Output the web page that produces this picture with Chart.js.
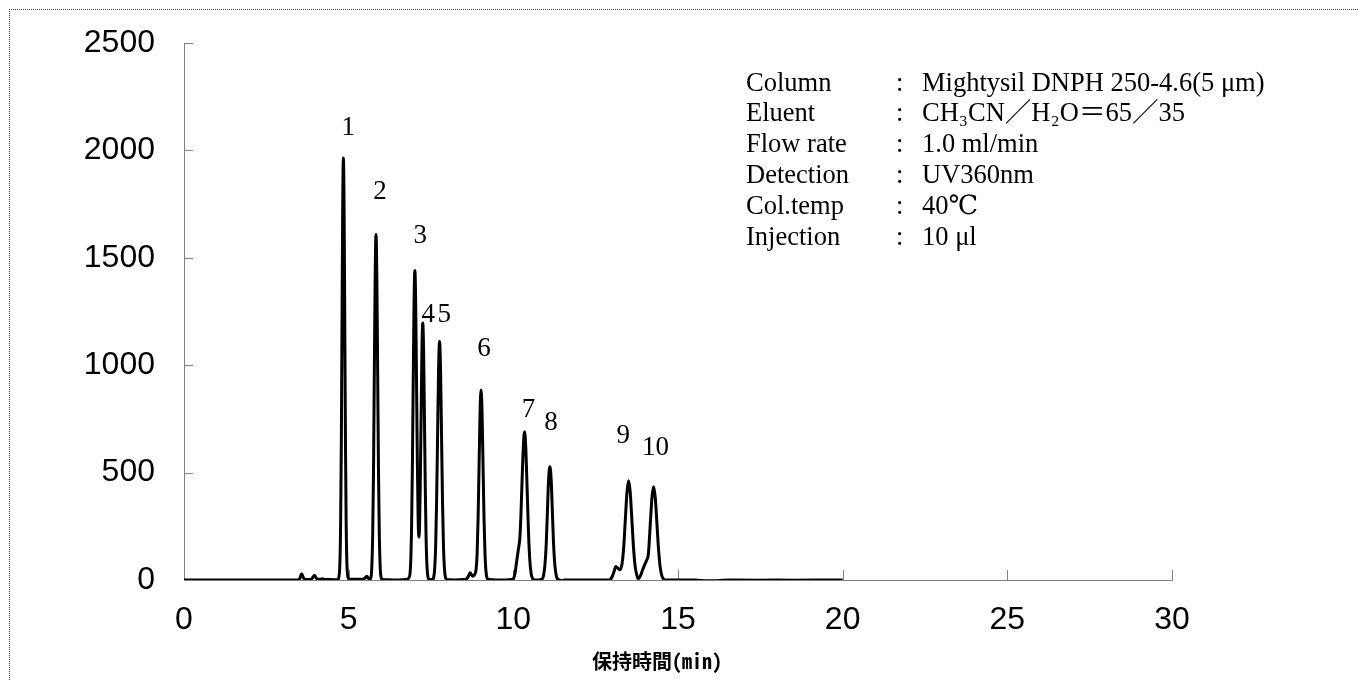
<!DOCTYPE html>
<html>
<head>
<meta charset="utf-8">
<title>DNPH chromatogram</title>
<script src="https://cdn.jsdelivr.net/npm/chart.js@4/dist/chart.umd.min.js"></script>
<style>
  html, body { margin: 0; padding: 0; background: #fff; }
  #wrap { position: relative; width: 1359px; height: 681px; overflow: hidden; }
  #frame { position: absolute; left: 9px; top: 9px; width: 1400px; height: 700px;
           border-left: 1px dotted #444; border-top: 1px dotted #444; pointer-events: none; }
</style>
</head>
<body>
<div id="wrap">
  <canvas id="chrom"></canvas>
  <div id="frame"></div>
</div>
<script>
// trace: retention time (min) and detector response
const retentionTime = [
  0, 1, 2, 3, 3.45,
  3.5, 3.53, 3.56, 3.58, 3.61, 3.65, 3.7,
  3.8, 3.87, 3.92, 3.96, 4.0, 4.05,
  4.12, 4.2, 4.28, 4.45, 4.6, 4.68,
  4.71, 4.735, 4.756, 4.777, 4.798, 4.819, 4.84, 4.861, 4.882, 4.903, 4.924, 4.945, 4.97, 5.0,
  5.1, 5.3, 5.45, 5.5, 5.55, 5.59, 5.63,
  5.68, 5.705, 5.73, 5.755, 5.78, 5.805, 5.83, 5.855, 5.88, 5.905, 5.93, 5.955, 5.98, 6.02,
  6.2, 6.5, 6.75,
  6.82, 6.86, 6.885, 6.91, 6.935, 6.96, 6.985, 7.01, 7.035, 7.06, 7.085, 7.11, 7.135,
  7.155, 7.175, 7.2, 7.225, 7.25, 7.275, 7.3, 7.325, 7.35, 7.375, 7.4, 7.43,
  7.5, 7.56,
  7.58, 7.61, 7.64, 7.67, 7.7, 7.73, 7.76, 7.79, 7.82, 7.85, 7.88, 7.91, 7.94, 7.98,
  8.2, 8.5,
  8.6, 8.65, 8.69, 8.73, 8.77,
  8.81, 8.84, 8.87, 8.9, 8.93, 8.96, 8.99, 9.02, 9.05, 9.08, 9.11, 9.14, 9.17, 9.2, 9.25,
  9.5, 9.8, 9.95,
  10.0, 10.05, 10.1, 10.15, 10.2, 10.23, 10.26, 10.3, 10.34, 10.38, 10.42, 10.46, 10.5, 10.54, 10.58, 10.62,
  10.75,
  10.885, 10.92, 10.96, 11.0, 11.035, 11.07, 11.11, 11.15, 11.185, 11.22, 11.26, 11.3, 11.335, 11.4, 11.47, 11.55,
  12.0, 12.5, 12.9,
  12.94, 13.0, 13.06, 13.11, 13.17, 13.23, 13.3, 13.35, 13.4, 13.45, 13.5, 13.55, 13.6, 13.65, 13.7, 13.75, 13.8,
  13.86, 13.92, 13.98, 14.04, 14.1, 14.16, 14.21, 14.26, 14.31, 14.36, 14.41, 14.46, 14.51, 14.56, 14.62,
  15.0, 15.5, 15.9, 16.2, 16.6, 17.5, 18.5, 19.2, 20
];
const signal = [
  0, 0, 0, 0, 0,
  3, 12, 26, 28, 16, 5, 2,
  2, 5, 14, 22, 12, 4,
  3, 6, 2, 2, 1, 2,
  20, 86, 265, 635, 1192, 1734, 1965, 1734, 1192, 635, 265, 86, 20, 5,
  3, 4, 5, 10, 18, 10, 2,
  15, 70, 217, 515, 980, 1415, 1608, 1415, 980, 515, 217, 70, 15, 3,
  1, 0, 2,
  8, 26, 89, 245, 533, 922, 1290, 1441, 1290, 935, 560, 281, 200,
  270, 455, 765, 1070, 1196, 1070, 765, 443, 203, 74, 22, 4,
  2, 3,
  12, 49, 150, 361, 674, 979, 1110, 979, 674, 361, 150, 49, 12, 2,
  0, 2,
  8, 22, 34, 24, 18,
  22, 30, 50, 120, 288, 537, 781, 885, 781, 537, 288, 120, 39, 10, 2,
  0, 0, 2,
  5, 30, 85, 140, 200, 300, 440, 609, 690, 609, 419, 224, 93, 30, 8, 2,
  0,
  6, 23, 71, 171, 320, 465, 527, 465, 320, 171, 71, 23, 6, 0, -3, 0,
  0, 0, 0,
  2, 15, 40, 63, 55, 48, 75, 150, 280, 407, 462, 407, 280, 150, 62, 22, 6,
  20, 45, 68, 90, 120, 265, 385, 434, 383, 263, 141, 59, 19, 5, 0,
  0, 0, -4, -3, 0, -1, -1, 0, 0
];

// peak numbers and where they sit (data units)
const peakNames = ['1', '2', '3', '4', '5', '6', '7', '8', '9', '10'];
const peakLabelTime = [4.99, 5.95, 7.17, 7.42, 7.90, 9.11, 10.46, 11.14, 13.34, 14.32];
const peakLabelHeight = [2071, 1772, 1570, 1200, 1200, 1045, 757, 700, 636, 583];

// axes
const xTicks = [0, 5, 10, 15, 20, 25, 30];
const yTicks = [0, 500, 1000, 1500, 2000, 2500];
const xTitle = '保持時間(min)';

// conditions box
const condNames = ['Column', 'Eluent', 'Flow rate', 'Detection', 'Col.temp', 'Injection'];
const condValues = ['Mightysil DNPH 250-4.6(5 μm)', 'CH₃CN／H₂O＝65／35', '1.0 ml/min', 'UV360nm', '40℃', '10 μl'];

const points = retentionTime.map((t, i) => ({ x: t, y: signal[i] }));

const extras = {
  id: 'extras',
  beforeDatasetsDraw(chart) {
    const { ctx, scales: { x, y } } = chart;
    ctx.save();
    ctx.strokeStyle = '#808080';
    ctx.lineWidth = 1;
    ctx.beginPath();
    yTicks.forEach(v => {
      const py = Math.round(y.getPixelForValue(v)) + 0.5;
      ctx.moveTo(x.left, py);
      ctx.lineTo(x.left + 9, py);
    });
    xTicks.forEach(v => {
      const px = Math.round(x.getPixelForValue(v)) + 0.5;
      ctx.moveTo(px, y.bottom);
      ctx.lineTo(px, y.bottom - 10);
    });
    ctx.stroke();
    ctx.restore();
  },
  afterDraw(chart) {
    const { ctx, scales: { x, y } } = chart;
    ctx.save();
    ctx.fillStyle = '#000';

    ctx.font = '27px "Liberation Serif", "DejaVu Serif", serif';
    ctx.textAlign = 'center';
    ctx.textBaseline = 'alphabetic';
    peakNames.forEach((name, i) => {
      ctx.fillText(name, x.getPixelForValue(peakLabelTime[i]), y.getPixelForValue(peakLabelHeight[i]));
    });

    ctx.textAlign = 'left';
    ctx.font = '26.5px "Liberation Serif", "DejaVu Serif", "Noto Sans CJK JP", serif';
    condNames.forEach((name, i) => {
      const by = 90.5 + i * 30.8;
      ctx.fillText(name, 746, by);
      ctx.fillText(':', 896, by);
      ctx.fillText(condValues[i], 922, by);
    });

    ctx.textAlign = 'center';
    ctx.textBaseline = 'middle';
    ctx.font = 'bold 20px "Noto Sans Mono CJK JP", "Noto Sans CJK JP", sans-serif';
    ctx.fillText(xTitle, 657, 661);
    ctx.restore();
  }
};

new Chart(document.getElementById('chrom'), {
  type: 'line',
  data: {
    datasets: [{
      data: points,
      borderColor: '#000',
      borderWidth: 3,
      pointRadius: 0,
      cubicInterpolationMode: 'monotone',
      fill: false
    }]
  },
  options: {
    responsive: true,
    maintainAspectRatio: false,
    animation: false,
    events: [],
    layout: { padding: { top: 43, right: 187, left: 0, bottom: 0 } },
    plugins: { legend: { display: false }, tooltip: { enabled: false } },
    scales: {
      x: {
        type: 'linear',
        min: 0, max: 30,
        afterBuildTicks: s => { s.ticks = xTicks.map(v => ({ value: v })); },
        afterFit: s => { s.height = 101; },
        grid: { drawOnChartArea: false, drawTicks: false },
        border: { color: '#808080', width: 1 },
        ticks: { color: '#000', padding: 21, maxRotation: 0, callback: v => String(v),
                 font: { family: '"Liberation Sans", Arial, sans-serif', size: 32 } }
      },
      y: {
        min: 0, max: 2500,
        afterBuildTicks: s => { s.ticks = yTicks.map(v => ({ value: v })); },
        afterFit: s => { s.width = 184; },
        // outward ticks kept invisible; they only hold the labels off the axis
        grid: { drawOnChartArea: false, drawTicks: true, tickLength: 29, tickColor: 'rgba(0,0,0,0)' },
        border: { color: '#808080', width: 1 },
        ticks: { color: '#000', padding: 0, callback: v => String(v),
                 font: { family: '"Liberation Sans", Arial, sans-serif', size: 32 } }
      }
    }
  },
  plugins: [extras]
});
</script>
</body>
</html>
